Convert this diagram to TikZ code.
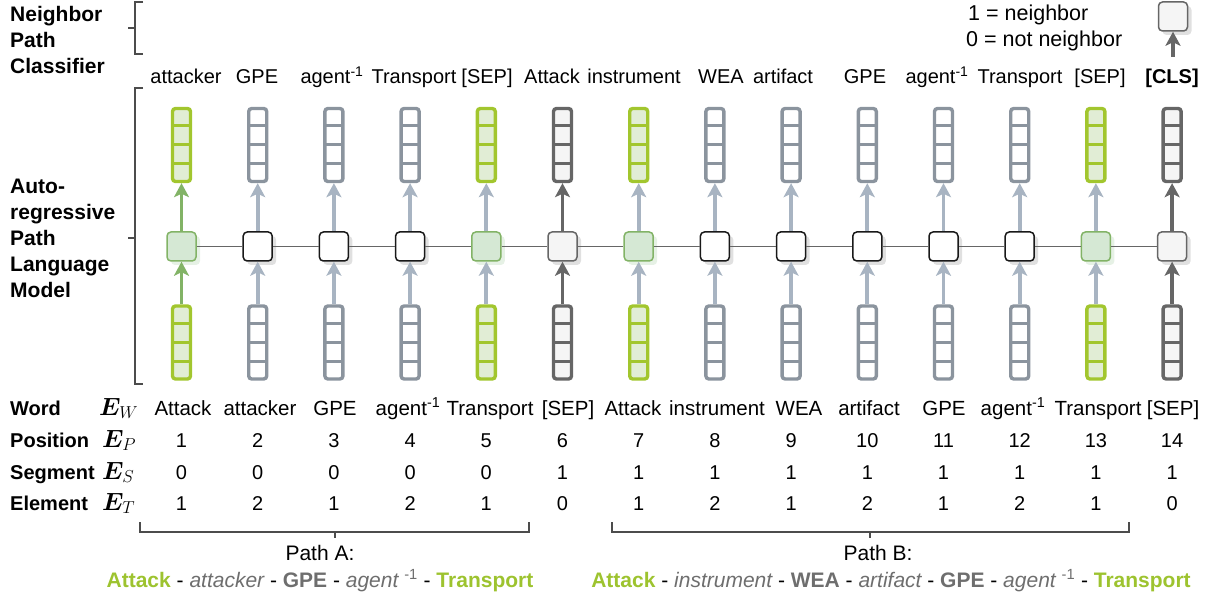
\documentclass[tikz,border=0pt]{standalone}
\usepackage{amsmath,bm}
\usepackage{fontspec}
\setmainfont{Liberation Sans}
\usetikzlibrary{arrows.meta,shadows}
\definecolor{vgreen}{HTML}{A2C62E}
\definecolor{lgreen}{HTML}{E1EDD5}
\definecolor{bgreen}{HTML}{82B366}
\definecolor{bgfill}{HTML}{D5E8D4}
\definecolor{vgray}{HTML}{8B949E}
\definecolor{agray}{HTML}{A8B4C2}
\definecolor{dgray}{HTML}{666666}
\definecolor{lightg}{HTML}{F5F5F5}
\definecolor{tgreen}{HTML}{9DC32F}
\definecolor{tgray}{HTML}{6E6E6E}
\tikzset{
  vecbase/.style={rectangle, rounded corners=3pt, line width=3.4pt, minimum width=18pt, minimum height=73pt, inner sep=0pt},
  vecg/.style={vecbase, draw=vgreen, fill=lgreen},
  vecb/.style={vecbase, draw=vgray, fill=white},
  vecd/.style={vecbase, draw=dgray, fill=lightg},
  cellg/.style={line width=3pt, draw=vgreen},
  cellb/.style={line width=3pt, draw=vgray},
  celld/.style={line width=3pt, draw=dgray},
  boxbase/.style={rectangle, rounded corners=4pt, line width=1.5pt, minimum size=29pt, inner sep=0pt},
  boxg/.style={boxbase, draw=bgreen, fill=bgfill, drop shadow={shadow xshift=4pt, shadow yshift=-4pt, fill=bgfill, opacity=.6}},
  boxb/.style={boxbase, draw=black!90, fill=white, drop shadow={shadow xshift=4pt, shadow yshift=-4pt, fill=black, opacity=.12}},
  boxd/.style={boxbase, draw=dgray, fill=lightg, drop shadow={shadow xshift=4pt, shadow yshift=-4pt, fill=black, opacity=.12}},
  arrbase/.style={line width=3.8pt, -{Stealth[length=14pt,width=15pt,inset=3.5pt]}},
  arrg/.style={arrbase, draw=bgreen, fill=bgreen},
  arrb/.style={arrbase, draw=agray, fill=agray},
  arrd/.style={arrbase, draw=dgray, fill=dgray},
  hline/.style={line width=1.3pt, draw=dgray},
  brk/.style={line width=1.2pt, draw=black!70},
  txt/.style={font=\fontsize{20}{24}\selectfont, inner sep=0pt, anchor=base},
  wtxt/.style={font=\fontsize{20.5}{24}\selectfont, inner sep=0pt, anchor=base},
  ptxt/.style={font=\fontsize{21}{24}\selectfont, inner sep=0pt, anchor=base},
  bigtxt/.style={font=\fontsize{21}{26}\selectfont\bfseries, inner sep=0pt, align=left, anchor=west},
  rowlbl/.style={font=\fontsize{20}{24}\selectfont\bfseries, inner sep=0pt, anchor=base west},
  emath/.style={font=\fontsize{26}{30}\selectfont, inner sep=0pt, anchor=base west},
}
\begin{document}
\begin{tikzpicture}[x=1pt,y=-1pt]
\useasboundingbox (0,0) rectangle (1215,601);

% columns: vectors, boxes, arrows
\foreach \i/\t/\a in {1/g/g,2/b/b,3/b/b,4/b/b,5/g/b,6/d/d,7/g/b,8/b/b,9/b/b,10/b/b,11/b/b,12/b/b,13/g/b,14/d/d}{
  \pgfmathsetmacro\xx{181.5+(\i-1)*76.2}
  \node[vec\t] (top\i) at (\xx,145) {};
  \draw[cell\t] (\xx-9,126) -- (\xx+9,126);
  \draw[cell\t] (\xx-9,145) -- (\xx+9,145);
  \draw[cell\t] (\xx-9,164) -- (\xx+9,164);
  \node[vec\t] (bot\i) at (\xx,342.5) {};
  \draw[cell\t] (\xx-9,323.25) -- (\xx+9,323.25);
  \draw[cell\t] (\xx-9,342.5) -- (\xx+9,342.5);
  \draw[cell\t] (\xx-9,361.75) -- (\xx+9,361.75);
  \node[box\t] (box\i) at (\xx,246.5) {};
  \draw[arr\a] (bot\i) -- (box\i);
  \draw[arr\a] (box\i) -- (top\i);
}
\foreach \i [evaluate=\i as \j using int(\i+1)] in {1,...,13}{
  \draw[hline] (box\i) -- (box\j);
}

% classifier
\node[boxd] (cls) at (1173,16.5) {};
\coordinate (clsin) at (1173,57);
\draw[arrd] (clsin) -- (cls);
\node[font=\fontsize{21.5}{25}\selectfont, inner sep=0pt, anchor=base west] (leg1) at (968,20.5) {1 = neighbor};
\node[font=\fontsize{21.5}{25}\selectfont, inner sep=0pt, anchor=base west] (leg0) at (966,46.5) {0 = not neighbor};

% left labels and brackets
\node[bigtxt] (npc) at (10,40) {Neighbor\\Path\\Classifier};
\node[bigtxt] (arplm) at (10,238) {Auto-\\regressive\\Path\\Language\\Model};
\draw[brk] (143,2) -- (135,2) -- (135,54) -- (143,54);
\draw[brk] (135,28) -- (128,28);
\draw[brk] (143,88) -- (135,88) -- (135,384) -- (143,384);
\draw[brk] (135,238) -- (128,238);

% top output labels
\foreach \n/\xx/\s in {1/186/attacker,2/257/GPE,3/332/agent\textsuperscript{-1},4/414/Transport,5/487/[SEP],6/552/Attack,7/634/instrument,8/721/WEA,9/783/artifact,10/865/GPE,11/937/agent\textsuperscript{-1},12/1020/Transport,13/1100/[SEP]}{
  \node[txt] (out\n) at (\xx,84) {\s};
}
\node[txt, font=\fontsize{20}{24}\selectfont\bfseries] (out14) at (1172,84) {[CLS]};

% row labels
\node[rowlbl] (rw) at (10,415) {Word};
\node[rowlbl] (rp) at (10,447) {Position};
\node[rowlbl] (rs) at (10,479) {Segment};
\node[rowlbl] (re) at (10,510) {Element};
\node[emath] (ew) at (99,415) {$\bm{E}_W$};
\node[emath] (ep) at (102,447) {$\bm{E}_P$};
\node[emath] (es) at (102,479) {$\bm{E}_S$};
\node[emath] (et) at (102,510) {$\bm{E}_T$};

% word row
\foreach \n/\xx/\s in {1/183/Attack,2/260/attacker,3/335/GPE,4/408/agent\textsuperscript{-1},5/490/Transport,6/568/[SEP],7/633/Attack,8/717/instrument,9/799/WEA,10/869/artifact,11/944/GPE,12/1013/agent\textsuperscript{-1},13/1098/Transport,14/1173/[SEP]}{
  \node[wtxt] (w\n) at (\xx,415) {\s};
}
% number rows
\foreach \i/\p/\sg/\el in {1/1/0/1,2/2/0/2,3/3/0/1,4/4/0/2,5/5/0/1,6/6/1/0,7/7/1/1,8/8/1/2,9/9/1/1,10/10/1/2,11/11/1/1,12/12/1/2,13/13/1/1,14/14/1/0}{
  \pgfmathsetmacro\xx{181.5+(\i-1)*76.2}
  \node[txt] (p\i) at (\xx,447) {\p};
  \node[txt] (s\i) at (\xx,479) {\sg};
  \node[txt] (e\i) at (\xx,510) {\el};
}

% path brackets
\draw[brk] (140,522) -- (140,532) -- (529,532) -- (529,522);
\draw[brk] (335,532) -- (335,538);
\draw[brk] (612,522) -- (612,532) -- (1129,532) -- (1129,522);
\draw[brk] (870,532) -- (870,538);
\node[ptxt] (pa) at (320,560) {Path A:};
\node[ptxt] (pb) at (878,560) {Path B:};
\node[ptxt] (pat) at (320,587) {\textcolor{tgreen}{\bfseries Attack} - \textcolor{tgray}{\itshape attacker} - \textcolor{tgray}{\bfseries GPE} - \textcolor{tgray}{\itshape agent} \textcolor{tgray}{\textsuperscript{-1}} - \textcolor{tgreen}{\bfseries Transport}};
\node[ptxt] (pbt) at (891,587) {\textcolor{tgreen}{\bfseries Attack} - \textcolor{tgray}{\itshape instrument} - \textcolor{tgray}{\bfseries WEA} - \textcolor{tgray}{\itshape artifact} - \textcolor{tgray}{\bfseries GPE} - \textcolor{tgray}{\itshape agent} \textcolor{tgray}{\textsuperscript{-1}} - \textcolor{tgreen}{\bfseries Transport}};
\end{tikzpicture}
\end{document}
